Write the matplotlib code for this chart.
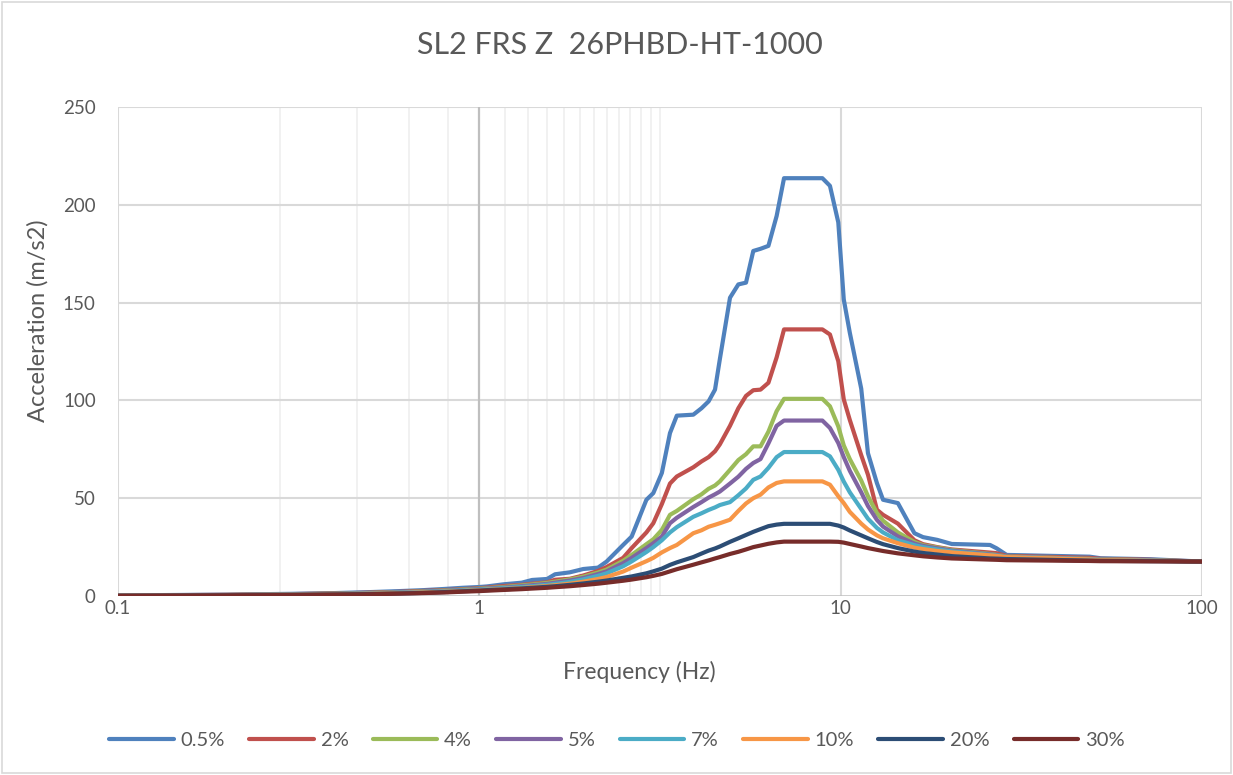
import numpy as np
import matplotlib
matplotlib.use("Agg")
import matplotlib.pyplot as plt
from matplotlib.patches import Rectangle

plt.rcParams['font.family'] = ['Lato', 'DejaVu Sans']

# frequency points (Hz)
freq = [0.1, 0.2, 0.3, 0.4, 0.5, 0.6, 0.7, 0.8, 0.9, 1.0,
        1.05, 1.17, 1.31, 1.4, 1.54, 1.62, 1.78, 1.94, 2.13, 2.25,
        2.5, 2.64, 2.9, 3.03, 3.2, 3.37, 3.52, 3.91, 4.12, 4.31,
        4.49, 4.63, 4.94, 5.21, 5.47, 5.73, 6.0, 6.31, 6.65, 6.97,
        8.9, 9.34, 9.85, 10.2, 10.6, 11.4, 11.9, 12.6, 13.1, 14.4,
        16.0, 16.9, 18.5, 20.3, 25.9, 27.0, 28.8, 48.9, 52.4, 72, 100]

acc_05 = [0.3, 0.7, 1.1, 1.5, 2.0, 2.5, 3.0, 3.6, 4.2, 4.6,
          4.9, 6.0, 6.8, 8.2, 8.7, 11.1, 12.1, 13.8, 14.5, 17.6,
          26.1, 30.4, 49.2, 52.6, 62.9, 83.3, 92.2, 92.7, 96.0, 99.5,
          105.5, 121.0, 152.5, 159.3, 160.2, 176.4, 177.5, 179.0, 194.3, 213.6,
          213.6, 209.7, 191.0, 151.6, 134.6, 106.0, 73.0, 57.7, 49.2, 47.5,
          32.1, 30.1, 28.7, 26.6, 26.1, 24.4, 21.0, 20.1, 19.3, 18.8, 17.6]

acc_2 = [0.25, 0.6, 0.95, 1.3, 1.7, 2.1, 2.6, 3.0, 3.5, 4.0,
         4.3, 5.1, 5.7, 6.3, 7.0, 8.3, 8.8, 10.5, 12.8, 14.8,
         19.5, 24.5, 32.5, 37.2, 47.0, 57.5, 61.1, 65.8, 68.8, 71.0,
         74.0, 77.5, 87.0, 96.0, 102.3, 105.2, 105.5, 109.0, 122.0, 136.3,
         136.3, 133.7, 120.0, 100.5, 90.0, 72.0, 62.0, 44.1, 41.5, 37.0,
         28.5, 26.5, 25.0, 23.8, 22.2, 21.9, 20.5, 19.5, 19.0, 18.5, 17.6]

acc_4 = [0.2, 0.5, 0.85, 1.2, 1.55, 1.9, 2.35, 2.8, 3.3, 3.75,
         4.0, 4.6, 5.4, 5.9, 6.7, 7.3, 8.5, 9.9, 12.0, 13.5,
         18.0, 21.0, 26.5, 29.0, 33.8, 41.5, 43.5, 49.5, 52.0, 54.8,
         56.5, 58.6, 64.5, 69.5, 72.5, 76.5, 76.5, 84.0, 94.5, 100.8,
         100.8, 97.0, 86.7, 77.0, 70.0, 59.0, 51.0, 42.4, 38.5, 32.5,
         27.6, 26.0, 24.8, 23.5, 21.5, 21.0, 20.2, 19.0, 18.7, 18.3, 17.6]

acc_5 = [0.2, 0.45, 0.8, 1.1, 1.45, 1.8, 2.2, 2.65, 3.1, 3.55,
         3.8, 4.3, 5.0, 5.5, 6.2, 6.8, 7.9, 9.2, 11.2, 12.6,
         16.8, 19.5, 24.5, 27.0, 30.4, 37.2, 40.0, 45.5, 48.0, 50.3,
         52.0, 53.4, 57.5, 61.0, 65.0, 68.0, 70.0, 78.0, 87.0, 89.7,
         89.7, 85.9, 78.2, 71.0, 64.0, 53.0, 46.0, 38.9, 35.5, 30.5,
         26.8, 25.6, 24.4, 23.2, 21.3, 20.9, 20.1, 18.9, 18.6, 18.2, 17.6]

acc_7 = [0.15, 0.4, 0.7, 1.0, 1.35, 1.7, 2.05, 2.45, 2.9, 3.3,
         3.55, 4.0, 4.6, 5.0, 5.7, 6.2, 7.2, 8.5, 10.3, 11.6,
         15.2, 17.7, 22.5, 25.0, 28.5, 32.5, 35.2, 40.5, 42.3, 44.0,
         45.3, 46.5, 48.0, 51.5, 55.0, 59.4, 61.1, 65.5, 71.0, 73.6,
         73.6, 71.4, 64.5, 58.5, 53.0, 44.5, 39.5, 34.8, 32.5, 28.5,
         26.0, 25.0, 23.8, 22.8, 21.0, 20.7, 20.0, 18.8, 18.5, 18.1, 17.6]

acc_10 = [0.1, 0.35, 0.6, 0.9, 1.2, 1.5, 1.85, 2.2, 2.6, 3.0,
          3.2, 3.6, 4.1, 4.5, 5.1, 5.5, 6.3, 7.3, 8.7, 9.7,
          12.5, 14.5, 17.8, 19.5, 22.3, 24.5, 26.1, 32.1, 33.6, 35.4,
          36.4, 37.2, 39.0, 43.5, 47.3, 50.0, 51.8, 55.5, 57.8, 58.6,
          58.6, 56.9, 51.0, 47.5, 43.0, 37.0, 34.0, 31.0, 29.5, 27.0,
          24.7, 24.0, 23.0, 22.3, 20.8, 20.5, 19.9, 18.7, 18.4, 18.0, 17.6]

acc_20 = [0.1, 0.35, 0.55, 0.8, 1.0, 1.3, 1.6, 2.0, 2.4, 2.8,
          3.0, 3.4, 3.9, 4.2, 4.7, 5.0, 5.7, 6.4, 7.3, 7.9,
          9.3, 10.0, 11.6, 12.6, 14.0, 15.9, 17.2, 19.9, 21.7, 23.2,
          24.3, 25.3, 27.7, 29.5, 31.2, 32.8, 34.2, 35.7, 36.5, 36.9,
          36.9, 36.9, 36.0, 35.0, 33.5, 31.0, 29.5, 27.6, 26.5, 24.5,
          22.7, 22.0, 21.2, 20.4, 19.2, 19.1, 18.9, 18.1, 18.0, 17.8, 17.6]

acc_30 = [0.1, 0.3, 0.5, 0.7, 0.9, 1.2, 1.5, 1.8, 2.2, 2.5,
          2.7, 3.1, 3.5, 3.8, 4.2, 4.5, 5.0, 5.6, 6.3, 6.8,
          7.8, 8.4, 9.6, 10.3, 11.3, 12.6, 13.7, 16.0, 17.2, 18.2,
          19.2, 19.9, 21.5, 22.6, 23.8, 25.0, 25.8, 26.7, 27.4, 27.8,
          27.8, 27.8, 27.7, 27.3, 26.6, 25.3, 24.5, 23.6, 23.0, 21.8,
          20.8, 20.3, 19.7, 19.2, 18.6, 18.5, 18.3, 17.9, 17.8, 17.7, 17.6]

labels = ['0.5%', '2%', '4%', '5%', '7%', '10%', '20%', '30%']
colors = ['#4F81BD', '#C0504D', '#9BBB59', '#8064A2', '#4BACC6', '#F79646', '#2C4D75', '#772C2A']
series = [acc_05, acc_2, acc_4, acc_5, acc_7, acc_10, acc_20, acc_30]

# Excel-style minor gridlines (minor unit 0.18)
minor_x = [0.28, 0.46, 0.64, 0.82, 1.18, 1.36, 1.54, 1.72, 1.90, 2.08,
           2.26, 2.44, 2.62, 2.80, 2.98, 3.16]

fig = plt.figure(figsize=(12.33, 7.75), dpi=100)
fig.patches.append(Rectangle((0.0015, 0.002), 0.997, 0.996, transform=fig.transFigure,
                             fill=False, edgecolor='#D9D9D9', linewidth=1.2))
ax = fig.add_axes([118 / 1233, (775 - 596) / 775, 1084 / 1233, 489 / 775])

ax.set_xscale('log')
ax.set_xlim(0.1, 100)
ax.set_ylim(0, 250)

for xm in minor_x:
    ax.axvline(xm, color='#F0F0F0', lw=1.3, zorder=0)
for xv in [0.1, 10, 100]:
    ax.axvline(xv, color='#D9D9D9', lw=1.5, zorder=0.5)
for yv in [50, 100, 150, 200, 250]:
    ax.axhline(yv, color='#D9D9D9', lw=1.5, zorder=0.5)
ax.axvline(1, color='#BFBFBF', lw=1.6, zorder=0.6)
ax.axhline(0, color='#BFBFBF', lw=1.8, zorder=0.6)

for vals, lab, col in zip(series, labels, colors):
    ax.plot(freq, vals, color=col, lw=3.0, label=lab, solid_joinstyle='round',
            solid_capstyle='round', zorder=3)

for s in ax.spines.values():
    s.set_visible(False)

ax.set_xticks([0.1, 1, 10, 100])
ax.set_xticklabels(['0.1', '1', '10', '100'])
ax.xaxis.set_minor_locator(matplotlib.ticker.NullLocator())
ax.set_yticks([0, 50, 100, 150, 200, 250])
ax.tick_params(axis='both', length=0, labelsize=13.5, colors='#595959')
ax.tick_params(axis='y', pad=16)
ax.tick_params(axis='x', pad=3)

fig.text(639 / 1233, 1 - 672 / 775, 'Frequency (Hz)', ha='center', va='center',
         fontsize=16.5, color='#595959')
fig.text(38 / 1233, 1 - 321 / 775, 'Acceleration (m/s2)', ha='center', va='center',
         rotation=90, fontsize=17, color='#595959')
fig.text(620 / 1233, 1 - 45 / 775, 'SL2 FRS Z  26PHBD-HT-1000', ha='center', va='center',
         fontsize=22, color='#595959')

leg = fig.legend(loc='center', bbox_to_anchor=(617 / 1233, 1 - 740 / 775), ncol=8,
                 frameon=False, fontsize=14.5, handlelength=3.2, handletextpad=0.35,
                 columnspacing=1.2, labelcolor='#595959')

fig.savefig('out.png', dpi=100)
